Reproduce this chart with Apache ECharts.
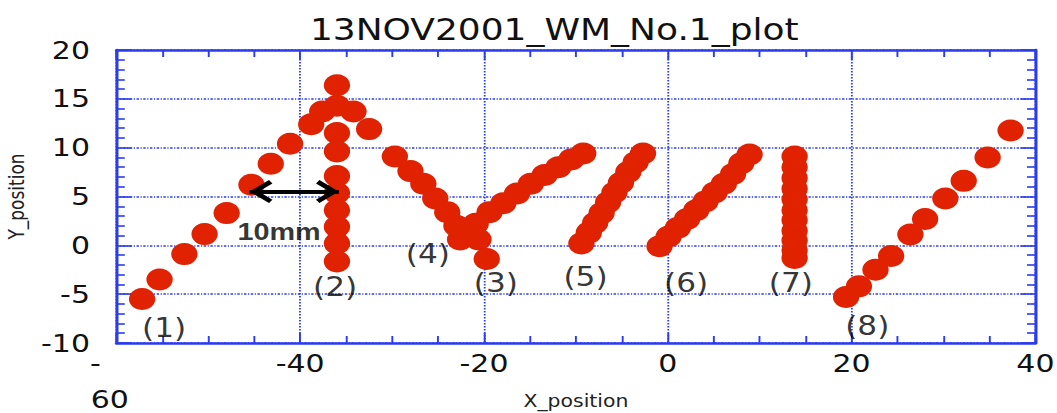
<!DOCTYPE html>
<html>
<head>
<meta charset="utf-8">
<title>13NOV2001_WM_No.1_plot</title>
<script src="https://cdn.jsdelivr.net/npm/echarts@6/dist/echarts.min.js"></script>
<style>
  html, body { margin: 0; padding: 0; background: #fff; overflow: hidden; }
  #wrap { width: 1057px; height: 413px; overflow: hidden; background: #fff; }
  /* the plot is laid out on a narrower canvas and widened horizontally */
  #chart { width: 881px; height: 413px; transform: scaleX(1.19977); transform-origin: 0 0; }
</style>
</head>
<body>
<div id="wrap"><div id="chart"></div></div>
<script>
// ---- measured wire positions (mm) for each scan path ----
const path1 = [[-57.2, -5.5], [-55.3, -3.5], [-52.6, -0.9], [-50.4, 1.15], [-48.0, 3.3],
               [-45.3, 6.2], [-43.2, 8.35], [-41.1, 10.4], [-38.8, 12.4], [-37.6, 13.7],
               [-36.0, 14.3], [-34.2, 13.7], [-32.5, 11.9]];
const path2 = [[-36.0, 16.4], [-36.0, 11.5], [-36.0, 9.6], [-36.0, 7.1], [-36.0, 5.35],
               [-36.0, 3.6], [-36.0, 1.9], [-36.0, 0.2], [-36.0, -1.65]];
const path3 = [[-19.7, -1.4], [-20.6, 0.6], [-20.9, 2.2], [-19.4, 3.4], [-17.9, 4.3],
               [-16.4, 5.3], [-14.9, 6.3], [-13.4, 7.2], [-11.9, 8.0], [-10.5, 8.8], [-9.2, 9.4]];
const path4 = [[-29.7, 9.1], [-28.0, 7.6], [-26.6, 6.3], [-25.3, 4.8], [-24.0, 3.4],
               [-23.0, 2.0], [-22.6, 0.6]];
const path5 = [[-9.4, 0.2], [-8.6, 1.3], [-7.9, 2.3], [-7.2, 3.3], [-6.5, 4.4],
               [-5.8, 5.4], [-5.1, 6.4], [-4.3, 7.5], [-3.5, 8.5], [-2.7, 9.4]];
const path6 = [[-0.9, -0.1], [0.1, 0.9], [1.1, 1.8], [2.1, 2.7], [3.1, 3.6], [4.1, 4.5],
               [5.1, 5.4], [6.1, 6.3], [7.1, 7.3], [8.0, 8.4], [8.9, 9.3]];
const path7 = [[13.8, 9.1], [13.8, 8.0], [13.8, 6.9], [13.8, 5.8], [13.8, 4.7], [13.8, 3.6],
               [13.8, 2.6], [13.8, 1.5], [13.8, 0.5], [13.8, -0.5], [13.8, -1.3]];
const path8 = [[19.4, -5.3], [20.8, -4.2], [22.6, -2.5], [24.3, -1.1], [26.4, 1.1],
               [28.0, 2.7], [30.2, 4.8], [32.2, 6.6], [34.8, 9.0], [37.3, 11.75]];
const paths = [path1, path2, path3, path4, path5, path6, path7, path8];

// path numbers and where they are written
const pathNames  = ['(1)', '(2)', '(3)', '(4)', '(5)', '(6)', '(7)', '(8)'];
const pathLabelX = [-54.8, -36.2, -18.7, -26.1, -8.95, 2.0, 13.4, 21.7];
const pathLabelY = [-8.5, -4.3, -3.8, -0.9, -3.2, -3.9, -3.9, -8.3];

// 10 mm scale bar
const scaleText = '10mm';
const scaleFrom = -45.5;
const scaleTo = -35.8;
const scaleY = 5.5;
const scaleTextPos = [-42.3, 1.4];

// axes
const titleText = '13NOV2001_WM_No.1_plot';
const xName = 'X_position';
const yName = 'Y_position';
const xTickLabels = ['-60', '-40', '-20', '0', '20', '40'];
const yTickLabels = ['-10', '-5', '0', '5', '10', '15', '20'];

const BLUE = '#2b3cef';
const RED = '#e02200';
const FONT = 'DejaVu Sans';
// open arrow head, tip pointing up in its own frame
const chevron = 'path://M12,0 L24,17 L20.5,20 L12,8 L3.5,20 L0,17 Z';

const chart = echarts.init(document.getElementById('chart'), null, { renderer: 'svg' });

const xBase = {
  type: 'value', min: -60, max: 40, interval: 20,
  axisLine: { show: true, onZero: false, lineStyle: { color: BLUE, width: 2.5 } },
  axisTick: { show: true, inside: true, length: 10, lineStyle: { color: BLUE, width: 1.6 } },
  minorTick: { show: true, splitNumber: 4, length: 7, lineStyle: { color: BLUE, width: 1.6 } }
};
const yBase = {
  type: 'value', min: -10, max: 20, interval: 5,
  axisLine: { show: true, onZero: false, lineStyle: { color: BLUE, width: 2.5 } },
  axisTick: { show: true, inside: true, length: 12.5, lineStyle: { color: BLUE, width: 1.6 } },
  minorTick: { show: true, splitNumber: 5, length: 7, lineStyle: { color: BLUE, width: 1.6 } }
};

const dotSeries = paths.map((p, i) => ({
  name: pathNames[i],
  type: 'scatter',
  data: p,
  symbol: 'circle',
  symbolSize: 22,
  itemStyle: { color: RED, opacity: 1 },
  silent: true,
  z: 3
}));

const arrowEnd = (x) => ({
  coord: [x, scaleY],
  symbol: chevron,
  symbolSize: [23, 19],
  symbolOffset: [0, 9.5]
});

const option = {
  animation: false,
  backgroundColor: '#fff',
  title: {
    text: titleText,
    left: 457, top: 10, textAlign: 'center',
    textStyle: { fontFamily: FONT, fontSize: 30, fontWeight: 'normal', color: '#111' }
  },
  grid: { left: 97, right: 18, top: 50, bottom: 70, outerBoundsMode: 'none' },
  xAxis: [
    Object.assign({}, xBase, {
      position: 'bottom',
      name: xName, nameLocation: 'middle', nameGap: 50, nameMoveOverlap: false,
      nameTextStyle: { fontFamily: FONT, fontSize: 17, color: '#222' },
      splitLine: { show: true, lineStyle: { color: BLUE, width: 1.5, type: [1.5, 1.5] } },
      axisLabel: {
        show: true, margin: 8, fontFamily: FONT, fontSize: 25, color: '#111', lineHeight: 25,
        formatter: (v, i) => i === 0
          ? '{m|' + xTickLabels[0].slice(0, 1) + '}\n{n|' + xTickLabels[0].slice(1) + '}'
          : xTickLabels[i],
        rich: {
          m: { fontFamily: FONT, fontSize: 25, color: '#111', lineHeight: 25, padding: [0, 35, 0, 0] },
          n: { fontFamily: FONT, fontSize: 25, color: '#111', lineHeight: 47, padding: [0, 11, 0, 0] }
        }
      }
    }),
    Object.assign({}, xBase, {
      position: 'top',
      axisLabel: { show: false },
      splitLine: { show: false }
    })
  ],
  yAxis: [
    Object.assign({}, yBase, {
      position: 'left',
      name: yName, nameLocation: 'middle', nameGap: 74, nameRotate: 90, nameMoveOverlap: false,
      nameTextStyle: { fontFamily: FONT, fontSize: 17, color: '#222' },
      splitLine: { show: true, lineStyle: { color: BLUE, width: 1.6, type: [2, 1.3, 1, 1.3] } },
      axisLabel: {
        show: true, margin: 22, fontFamily: FONT, fontSize: 25, color: '#111',
        padding: [0, 0, 9, 0],
        formatter: (v, i) => yTickLabels[i]
      }
    }),
    Object.assign({}, yBase, {
      position: 'right',
      axisLabel: { show: false },
      splitLine: { show: false }
    })
  ],
  series: dotSeries.concat([
    {
      name: 'paths',
      type: 'scatter',
      symbolSize: 0,
      silent: true,
      z: 4,
      data: pathNames.map((n, i) => ({ name: n, value: [pathLabelX[i], pathLabelY[i]] })),
      label: {
        show: true, position: 'inside', formatter: '{b}',
        fontFamily: FONT, fontSize: 26, color: '#000'
      }
    },
    {
      name: 'scale',
      type: 'scatter',
      symbolSize: 0,
      silent: true,
      z: 5,
      data: [{ name: scaleText, value: scaleTextPos }],
      label: {
        show: true, position: 'inside', formatter: '{b}',
        fontFamily: 'Liberation Sans', fontWeight: 'bold', fontSize: 24, color: '#000'
      },
      markLine: {
        silent: true,
        label: { show: false },
        lineStyle: { color: '#000', width: 4, type: 'solid' },
        data: [[arrowEnd(scaleFrom), arrowEnd(scaleTo)]]
      }
    }
  ])
};

chart.setOption(option);
</script>
</body>
</html>
